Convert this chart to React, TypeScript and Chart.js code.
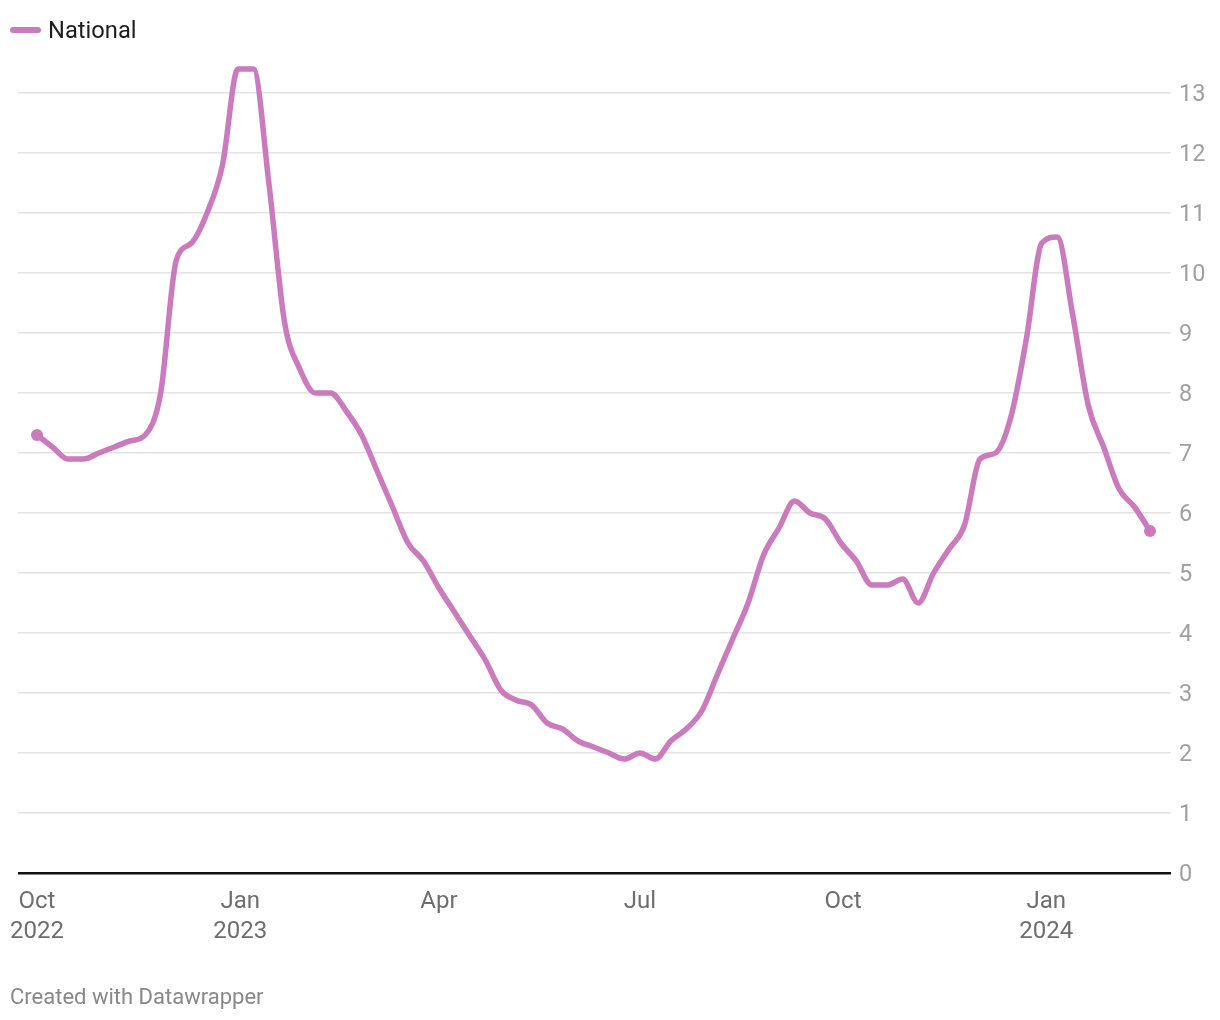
import React, { useEffect, useRef } from "react";
import { Chart, registerables } from "chart.js";

Chart.register(...registerables);

// ---- data ----
const seriesName = "National";
const firstWeek = "2022-10-01"; // first weekly observation
const axisOrigin = "2022-10-01";
const values = [
  7.3, 7.1, 6.9, 6.9, 7.0, 7.1, 7.2, 7.3, 8.0, 10.2,
  10.5, 11.0, 11.8, 13.4, 13.4, 11.5, 9.2, 8.4, 8.0, 8.0,
  7.7, 7.3, 6.7, 6.1, 5.5, 5.2, 4.75, 4.35, 3.95, 3.55,
  3.05, 2.88, 2.8, 2.5, 2.4, 2.2, 2.1, 2.0, 1.9, 2.0,
  1.9, 2.2, 2.4, 2.7, 3.3, 3.9, 4.5, 5.3, 5.75, 6.2,
  6.0, 5.9, 5.5, 5.2, 4.8, 4.8, 4.9, 4.5, 5.0, 5.4,
  5.8, 6.9, 7.0, 7.6, 8.9, 10.5, 10.6, 9.3, 7.8, 7.1,
  6.4, 6.1, 5.7,
];
const xTickDates = ["2022-10-01", "2023-01-01", "2023-04-01", "2023-07-01", "2023-10-01", "2024-01-01"];
const xTickLabels = [["Oct", "2022"], ["Jan", "2023"], ["Apr"], ["Jul"], ["Oct"], ["Jan", "2024"]];
const yTicks = [0, 1, 2, 3, 4, 5, 6, 7, 8, 9, 10, 11, 12, 13];

const DAY = 86400000;
const dayOf = (s: string) => (Date.parse(s + "T00:00:00Z") - Date.parse(axisOrigin + "T00:00:00Z")) / DAY;

const LINE = "#cb7abd";

export default function App() {
  const ref = useRef<HTMLCanvasElement | null>(null);
  useEffect(() => {
    if (!ref.current) return;
    const start = dayOf(firstWeek);
    const data = values.map((v, i) => ({ x: start + i * 7, y: v }));
    const tickDays = xTickDates.map(dayOf);
    const last = data.length - 1;
    const chart = new Chart(ref.current, {
      type: "line",
      data: {
        datasets: [
          {
            label: seriesName,
            data,
            borderColor: LINE,
            backgroundColor: LINE,
            borderWidth: 5.5,
            cubicInterpolationMode: "monotone",
            pointRadius: (ctx: any) => (ctx.dataIndex === 0 || ctx.dataIndex === last ? 6 : 0),
            pointBorderWidth: 0,
            pointBackgroundColor: LINE,
            pointHoverRadius: 0,
          },
        ],
      },
      options: {
        responsive: false,
        animation: false,
        devicePixelRatio: 1,
        layout: { padding: { left: 18, top: 63, right: 0, bottom: 0 } },
        plugins: { legend: { display: false }, tooltip: { enabled: false } },
        scales: {
          x: {
            type: "linear",
            min: -8.6,
            max: 513.5,
            grid: { display: false },
            border: { display: false },
            afterBuildTicks: (scale: any) => {
              scale.ticks = tickDays.map((d) => ({ value: d }));
            },
            afterFit: (scale: any) => {
              scale.height = 147;
              scale.paddingLeft = 0;
              scale.paddingRight = 0;
            },
            ticks: {
              autoSkip: false,
              maxRotation: 0,
              padding: 6,
              color: "#6e6e6e",
              font: { family: "Roboto", size: 24, lineHeight: 1.25 },
              callback: (v: any) => {
                const i = tickDays.indexOf(Number(v));
                return i >= 0 ? xTickLabels[i] : "";
              },
            },
          },
          y: {
            position: "right",
            min: 0,
            max: 13.5,
            border: { display: false },
            afterBuildTicks: (scale: any) => {
              scale.ticks = yTicks.map((v) => ({ value: v }));
            },
            afterFit: (scale: any) => {
              scale.width = 49;
              scale.paddingTop = 0;
              scale.paddingBottom = 0;
            },
            grid: {
              drawTicks: false,
              color: (ctx: any) => (ctx.tick && ctx.tick.value === 0 ? "#111111" : "#e3e3e3"),
              lineWidth: (ctx: any) => (ctx.tick && ctx.tick.value === 0 ? 2.5 : 1.5),
            },
            ticks: {
              padding: 8,
              labelOffset: 2,
              color: "#a0a0a0",
              font: { family: "Roboto", size: 23.5 },
              callback: (v: any) => String(v),
            },
          },
        },
      },
    } as any);
    return () => chart.destroy();
  }, []);

  return (
    <div style={{ position: "absolute", left: 0, top: 0, width: 1220, height: 1020, background: "#fff", fontFamily: "Roboto" }}>
      <canvas ref={ref} width={1220} height={1020} style={{ position: "absolute", left: 0, top: 0 }} />
      <div style={{ position: "absolute", left: 10, top: 27, width: 31, height: 6, borderRadius: 3, background: LINE }} />
      <div style={{ position: "absolute", left: 48, top: 18, fontSize: 23.7, lineHeight: "24px", color: "#1d1d1d" }}>{seriesName}</div>
      <div style={{ position: "absolute", left: 10, top: 986, fontSize: 22, lineHeight: "22px", color: "#888888" }}>
        Created with Datawrapper
      </div>
    </div>
  );
}
